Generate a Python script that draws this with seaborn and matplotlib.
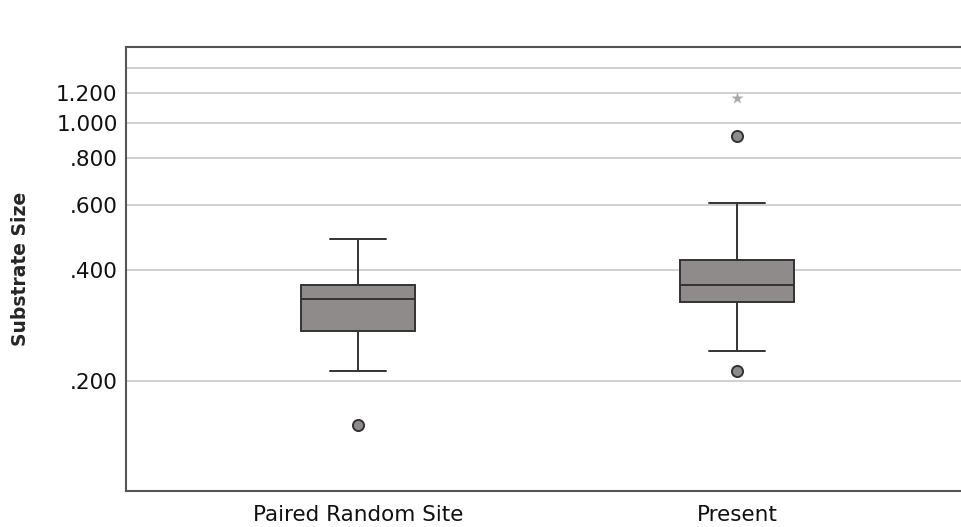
import numpy as np
import pandas as pd
import matplotlib
matplotlib.use("Agg")
import matplotlib.pyplot as plt
import seaborn as sns

# values (substrate size), chosen so the box stats match
groups = ["Paired Random Site", "Present"]
paired_vals = [0.152, 0.213, 0.274, 0.300, 0.334, 0.350, 0.365, 0.420, 0.485]
present_vals = [0.213, 0.242, 0.300, 0.328, 0.340, 0.355, 0.365, 0.390, 0.410,
                0.426, 0.607, 0.917, 1.163]

# outliers (SPSS style: circle = outlier, star = extreme)
out_group = ["Paired Random Site", "Present", "Present"]
out_vals = [0.152, 0.213, 0.917]
ext_group = ["Present"]
ext_vals = [1.163]

ytick_vals = [0.2, 0.4, 0.6, 0.8, 1.0, 1.2, 1.4]
ytick_labels = [".200", ".400", ".600", ".800", "1.000", "1.200", ""]

df = pd.DataFrame({
    "group": [groups[0]] * len(paired_vals) + [groups[1]] * len(present_vals),
    "size": paired_vals + present_vals,
})
df_out = pd.DataFrame({"group": out_group, "size": out_vals})
df_ext = pd.DataFrame({"group": ext_group, "size": ext_vals})

sns.set_style("white")
plt.rcParams["font.family"] = ["DejaVu Sans"]

fig = plt.figure(figsize=(9.62, 5.27), dpi=100)
ax = fig.add_axes([126 / 962, 1 - 491 / 527, 843 / 962, 444 / 527])
ax.set_yscale("log")

sns.boxplot(data=df, x="group", y="size", order=groups, ax=ax,
            width=0.3, color="#8f8b8b", saturation=1, showfliers=False,
            linecolor="#333333", linewidth=1.4)

sns.stripplot(data=df_out, x="group", y="size", order=groups, ax=ax,
              jitter=False, color="#8f8b8b", edgecolor="#333333",
              linewidth=1.4, size=8, marker="o", zorder=5)
sns.stripplot(data=df_ext, x="group", y="size", order=groups, ax=ax,
              jitter=False, color="#a8a8a8", size=9, marker="*",
              linewidth=0, zorder=5)

ax.set_ylim(0.101, 1.6)
ax.set_xlim(-0.612, 1.612)
ax.yaxis.set_minor_locator(matplotlib.ticker.NullLocator())
ax.set_yticks(ytick_vals)
ax.set_yticklabels(ytick_labels)
ax.yaxis.grid(True, color="#c8c8c8", linewidth=1.2)
ax.set_axisbelow(True)
ax.tick_params(axis="both", length=0, labelsize=15.5, colors="#111111")
ax.tick_params(axis="y", pad=6)
ax.tick_params(axis="x", pad=10)

for side in ["left", "bottom", "top"]:
    ax.spines[side].set_color("#555555")
    ax.spines[side].set_linewidth(1.5)
ax.spines["right"].set_visible(False)

ax.set_xlabel("")
ax.set_ylabel("Substrate Size", fontsize=13.5, fontweight="bold")
ax.yaxis.set_label_coords(-0.114, 0.5)

fig.savefig("out.png", dpi=100)
